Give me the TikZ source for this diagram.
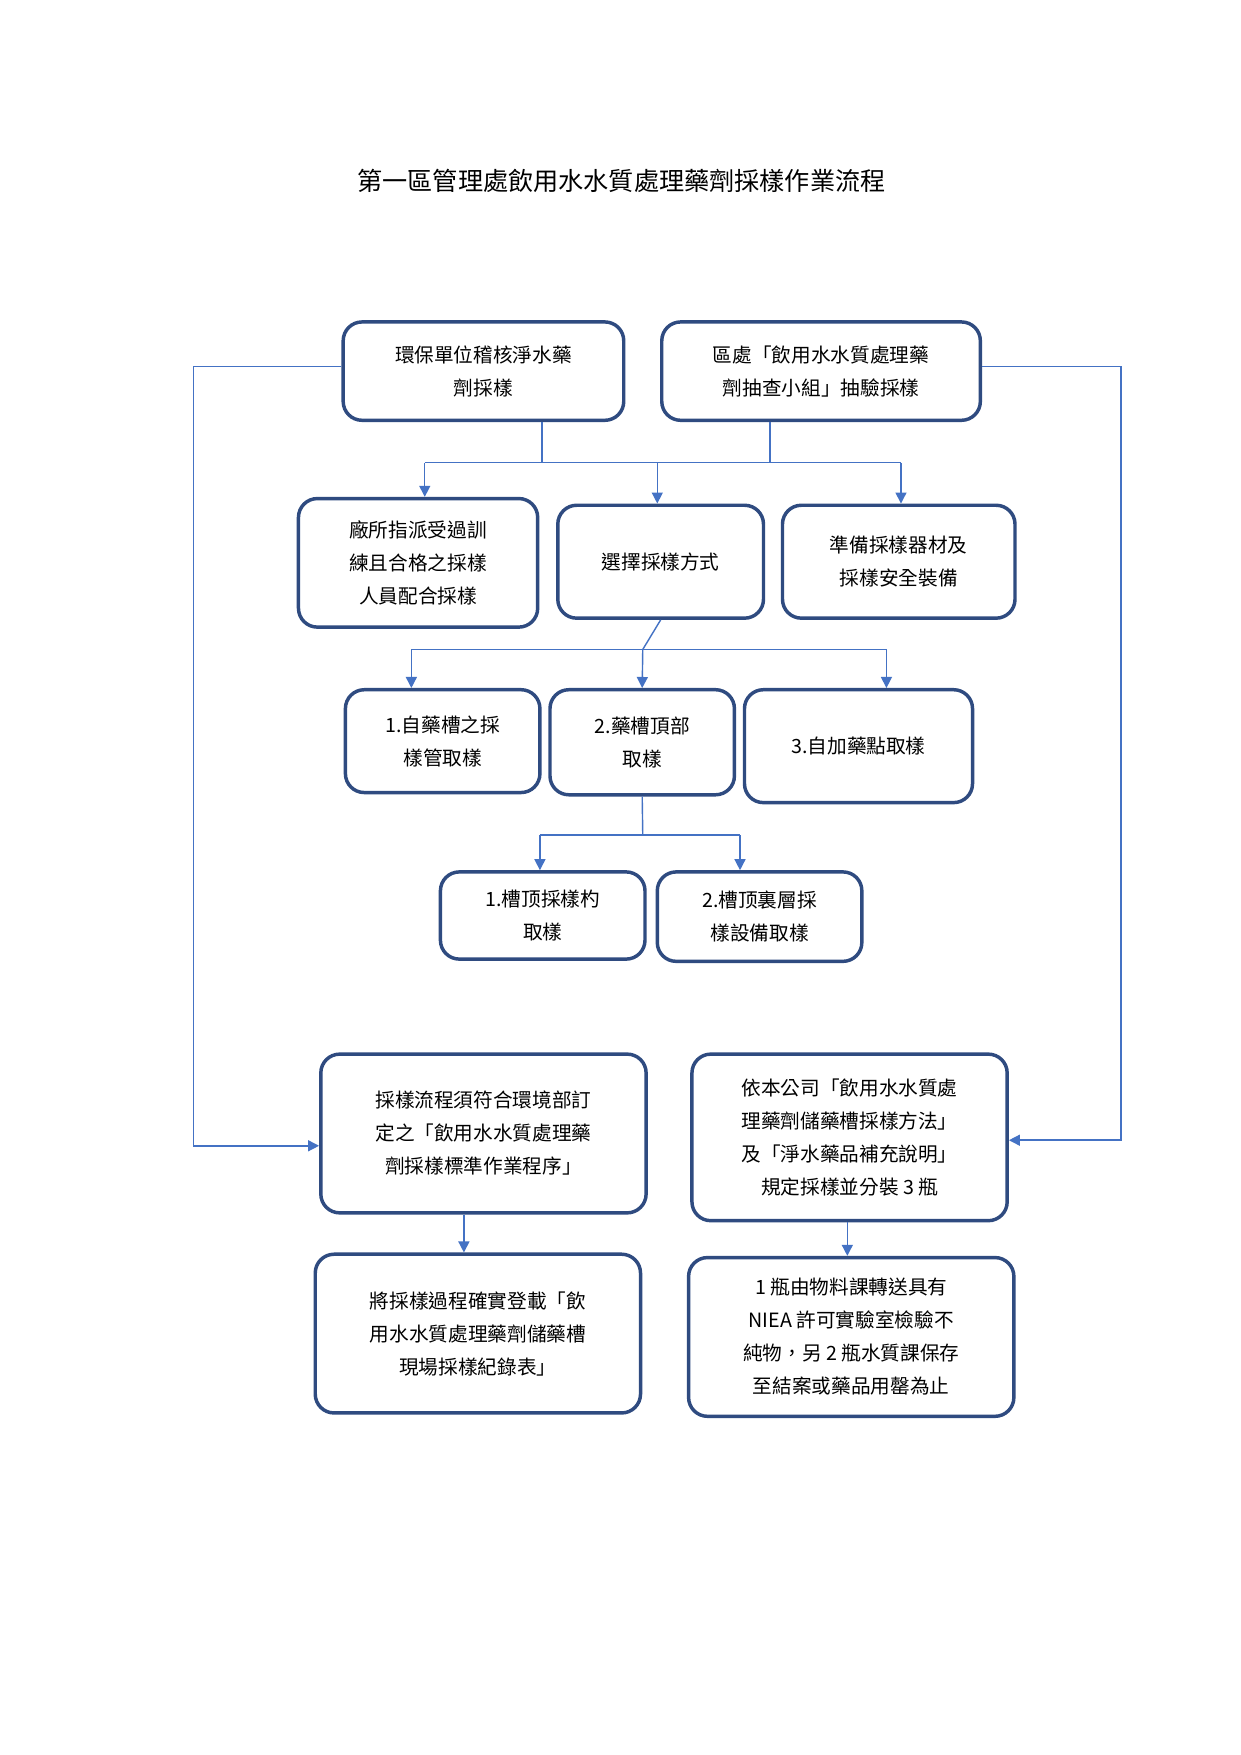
\documentclass[tikz,border=0pt]{standalone}
\usepackage{fontspec}
\setmainfont{Noto Sans CJK TC}
\usetikzlibrary{arrows.meta}
\begin{document}
\begin{tikzpicture}[x=0.025cm,y=-0.025cm,
 bx/.style={draw=boxc,line width=2.2pt,rounded corners=12pt,align=center,font=\fontsize{12.5}{21}\selectfont,inner sep=0pt},
 ln/.style={draw=lnc,line width=0.9pt},
 ar/.style={ln,-{Triangle[length=7pt,width=7pt]}}]
\definecolor{boxc}{HTML}{2F4B80}
\definecolor{lnc}{HTML}{4472C4}
\useasboundingbox[fill=white] (0,0) rectangle (1110,1570);
\node[font=\fontsize{16}{20}\selectfont] (t) at (556,162) {第一區管理處飲用水水質處理藥劑採樣作業流程};
\newcommand{\bb}[6]{\node[bx,minimum width={(#3-#2)*0.025cm},minimum height={(#5-#4)*0.025cm}] (#1) at ({(#2+#3)/2},{(#4+#5)/2}) {#6};}
\bb{A}{307}{558}{288}{376}{環保單位稽核淨水藥\\劑採樣}
\bb{B}{592}{877}{288}{376}{區處「飲用水水質處理藥\\劑抽查小組」抽驗採樣}
\bb{C}{267}{481}{446}{561}{廠所指派受過訓\\練且合格之採樣\\人員配合採樣}
\bb{D}{499}{683}{452}{553}{選擇採樣方式}
\bb{E}{700}{908}{452}{553}{準備採樣器材及\\採樣安全裝備}
\bb{F}{309}{483}{617}{709}{1.自藥槽之採\\樣管取樣}
\bb{G}{492}{657}{617}{711}{2.藥槽頂部\\取樣}
\bb{H}{666}{870}{617}{718}{3.自加藥點取樣}
\bb{I}{394}{577}{780}{858}{1.槽顶採樣杓\\取樣}
\bb{J}{588}{771}{780}{860}{2.槽顶裏層採\\樣設備取樣}
\bb{K}{287}{578}{943}{1085}{採樣流程須符合環境部訂\\定之「飲用水水質處理藥\\劑採樣標準作業程序」}
\bb{L}{619}{901}{943}{1092}{依本公司「飲用水水質處\\理藥劑儲藥槽採樣方法」\\及「淨水藥品補充說明」\\規定採樣並分裝 3 瓶}
\bb{M}{282}{573}{1122}{1264}{將採樣過程確實登載「飲\\用水水質處理藥劑儲藥槽\\現場採樣紀錄表」}
\bb{N}{616}{907}{1125}{1267}{1 瓶由物料課轉送具有\\NIEA 許可實驗室檢驗不\\純物，另 2 瓶水質課保存\\至結案或藥品用罄為止}
\coordinate (j1) at (380,414); \coordinate (j2) at (806,414);
\draw[ln] (A.south -| 485,0) -- (485,414);
\draw[ln] (B.south -| 689,0) -- (689,414);
\draw[ln] (j1) -- (j2);
\draw[ar] (j1) -- (C.north -| j1);
\draw[ar] (588,414) -- (D.north -| 588,0);
\draw[ar] (j2) -- (E.north -| j2);
\draw[ln] (D.south) -- (575,581);
\draw[ln] (368,581) -- (793,581);
\draw[ar] (368,581) -- (F.north -| 368,0);
\draw[ar] (575,581) -- (G.north);
\draw[ar] (793,581) -- (H.north -| 793,0);
\draw[ln] (G.south) -- (575,747);
\draw[ln] (483,747) -- (662,747);
\draw[ar] (483,747) -- (I.north -| 483,0);
\draw[ar] (662,747) -- (J.north -| 662,0);
\draw[ar] (A.west |- 0,328) -- (173,328) -- (173,1025) -- (K.west |- 0,1025);
\draw[ar] (B.east |- 0,328) -- (1003,328) -- (1003,1020) -- (L.east |- 0,1020);
\draw[ar] (K.south -| 415,0) -- (M.north -| 415,0);
\draw[ar] (L.south -| 758,0) -- (N.north -| 758,0);
\end{tikzpicture}
\end{document}
